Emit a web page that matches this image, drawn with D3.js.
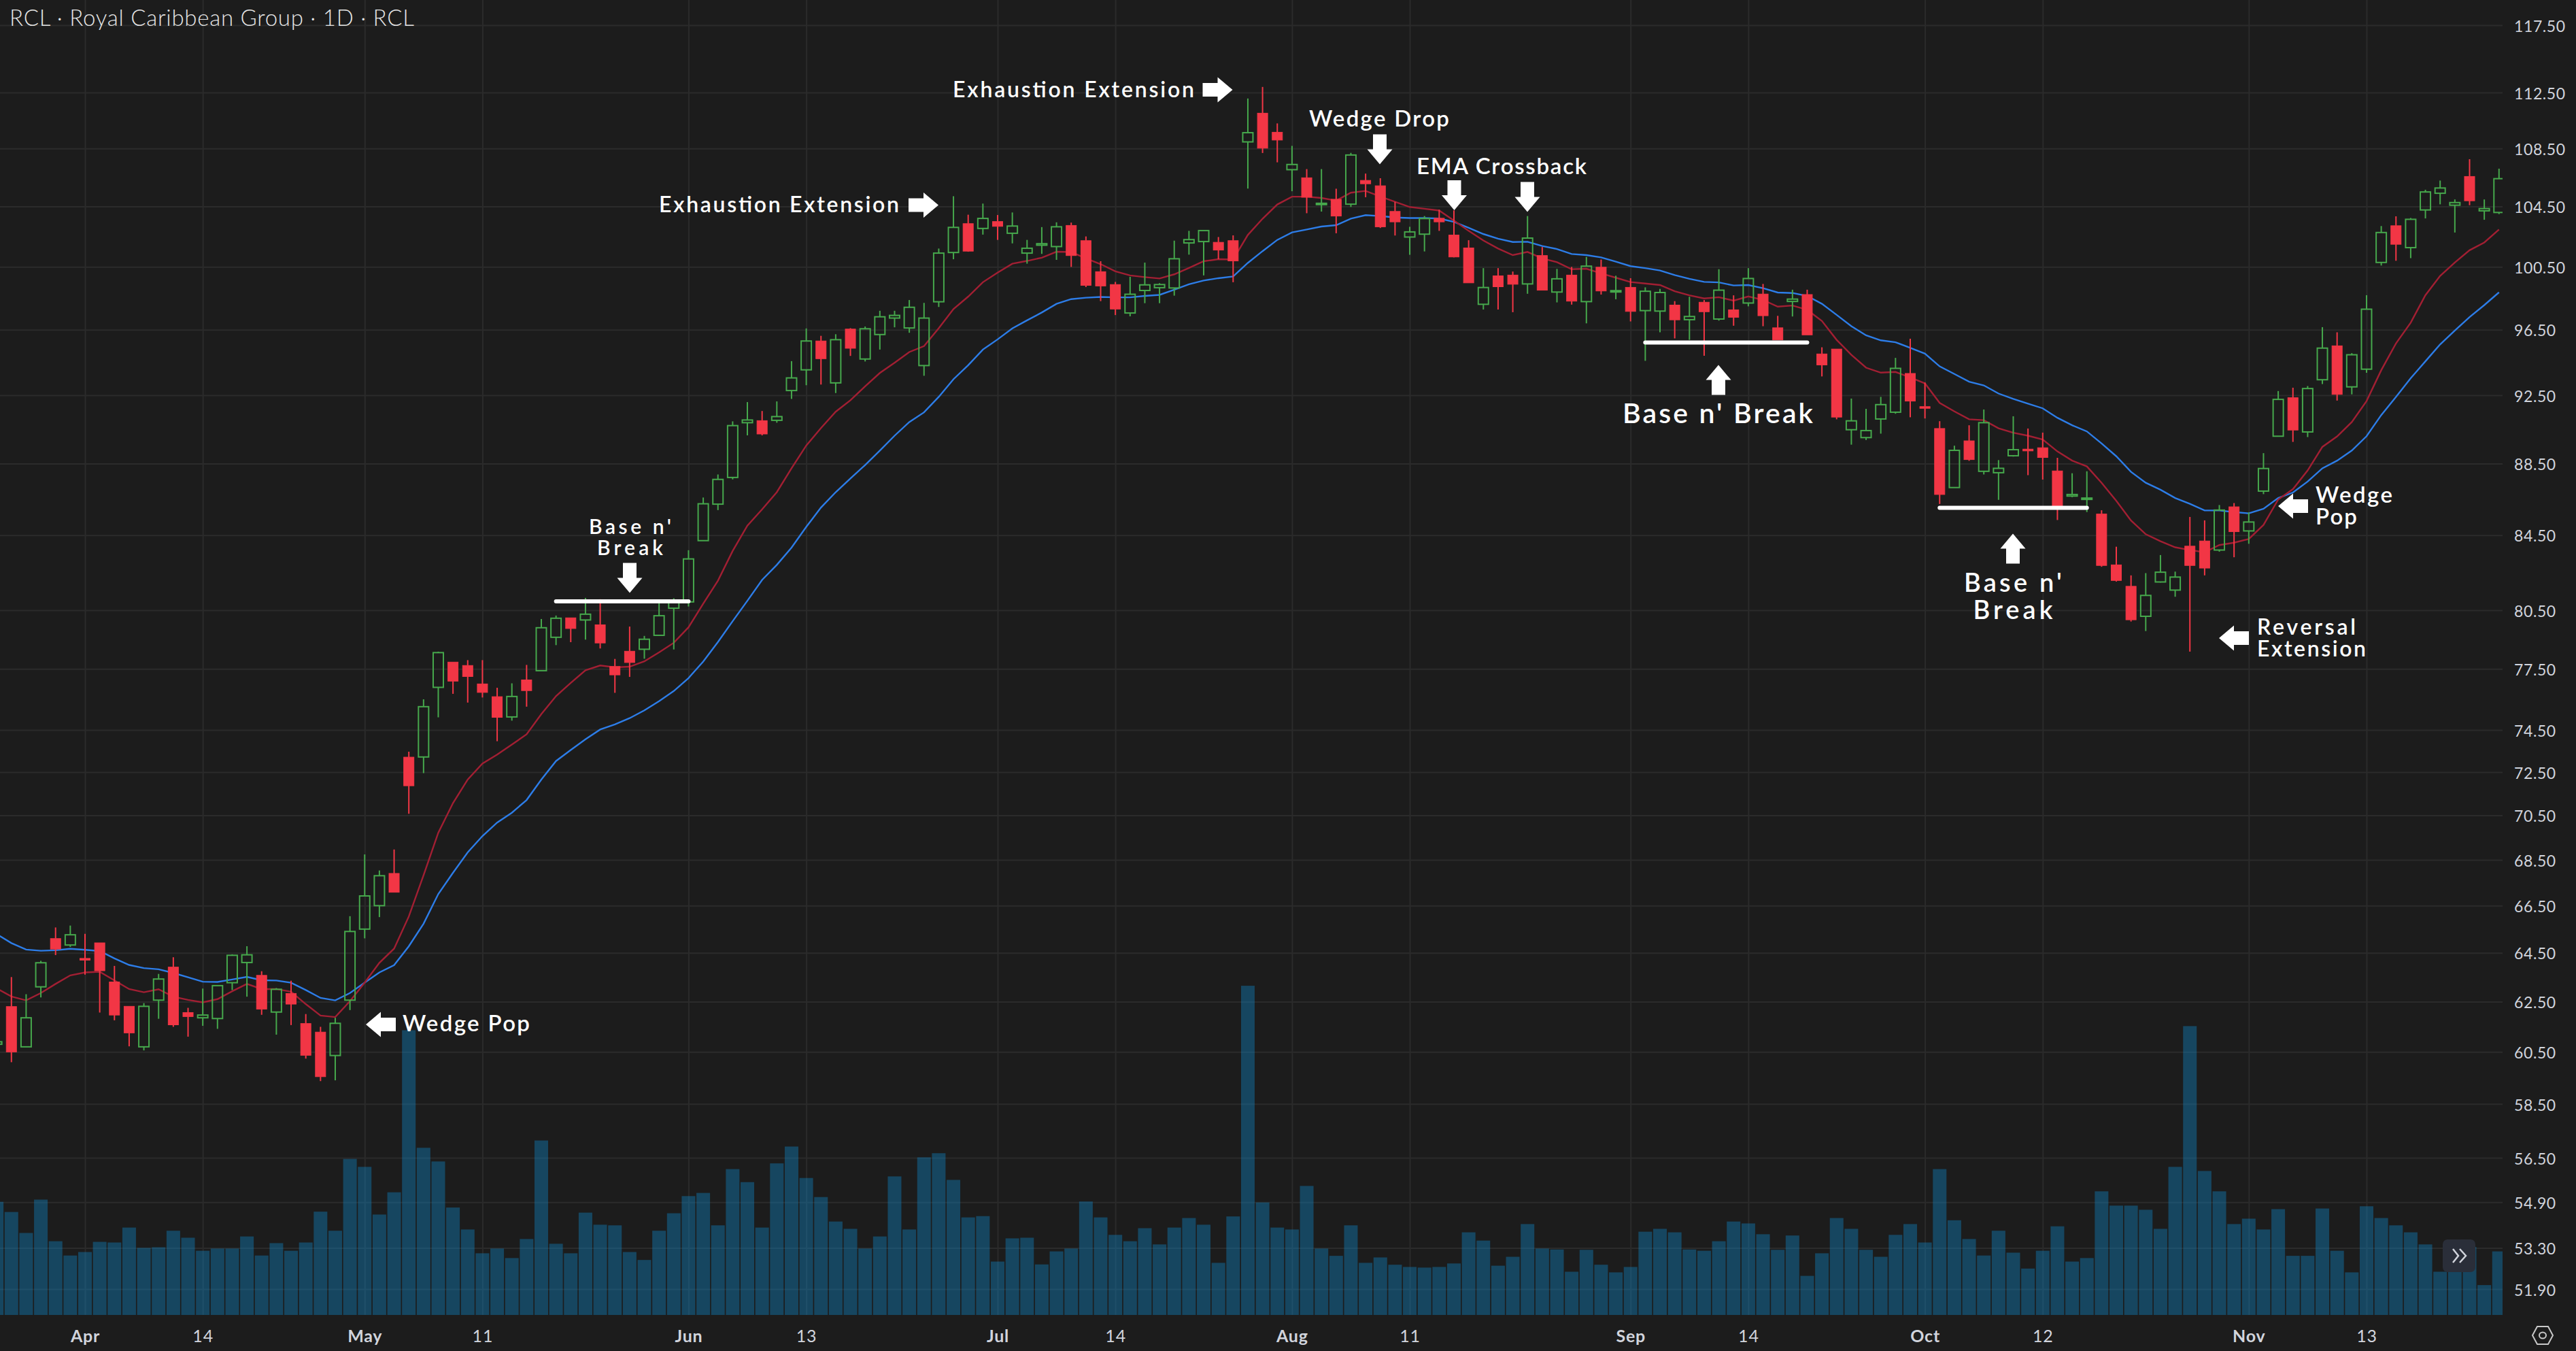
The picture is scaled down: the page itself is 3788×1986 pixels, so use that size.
<!DOCTYPE html>
<html>
<head>
<meta charset="utf-8">
<script src="https://cdn.jsdelivr.net/npm/d3@7/dist/d3.min.js"></script>
<style>
  html, body { margin: 0; padding: 0; background: #1c1c1c; }
  svg { display: block; }
  text { font-family: Lato, "Noto Sans", sans-serif; }
</style>
</head>
<body>
<svg id="chart" width="3788" height="1986"></svg>
<script>
// one row = 10 sessions, first row starts 6 sessions before Apr 3
const opens = [
  60.8,62.3,60.7,63.1,65.1,64.83,64.27,64.92,63.3,62.31,
  60.7,62.56,63.91,62.06,61.85,61.82,63.27,64.1,63.57,62.08,
  62.83,61.62,61.28,60.36,62.56,65.5,66.5,67.9,73.2,73.21,
  76.58,77.84,77.67,76.75,76.12,75.13,76.95,77.41,79.1,80.1,
  79.99,79.74,77.62,78.39,78.49,79.2,80.6,80.93,84.2,86.21,
  87.71,90.87,90.99,91.01,92.78,94.03,95.8,93.24,96.54,94.69,
  96.2,97.23,96.61,94.29,98.26,101.44,103.35,103.03,103.49,102.71,
  101.4,101.92,101.83,103.23,102.22,100.19,99.36,97.55,98.98,99.16,
  99.14,102.07,102.16,102.11,102.22,108.96,111.0,109.64,107.02,106.46,
  104.64,104.99,104.66,106.28,105.91,104.17,102.46,102.65,103.71,102.59,
  101.74,98.1,99.92,99.97,99.4,101.24,98.88,99.97,98.27,100.48,
  98.9,99.18,97.7,97.67,98.05,97.13,98.23,97.17,97.75,98.18,
  98.75,96.62,98.28,98.72,95.0,95.3,90.46,90.0,91.09,91.49,
  93.81,91.82,90.53,87.14,89.81,88.06,87.98,88.95,89.33,89.41,
  88.08,86.66,86.48,85.66,82.89,81.75,80.18,81.98,81.55,83.9,
  84.18,83.69,86.06,84.73,86.94,90.08,92.35,90.33,93.43,95.5,
  93.0,94.07,100.79,103.21,101.76,104.27,105.4,104.59,106.55,104.21,
  104.1
];
const highs = [
  61.0,63.5,62.8,64.17,65.57,65.65,65.3,64.92,63.96,62.31,
  62.44,63.63,64.32,62.25,63.03,63.15,64.44,64.78,63.74,63.05,
  63.35,62.0,61.49,61.85,66.05,68.74,68.03,68.96,73.46,75.99,
  78.37,77.84,77.94,77.94,76.56,76.78,77.7,80.04,80.22,80.1,
  81.14,81.07,78.0,79.65,79.17,80.93,81.12,83.68,86.58,87.88,
  90.95,92.09,91.56,92.13,94.56,96.58,96.12,96.22,96.6,96.7,
  97.69,97.69,98.37,98.19,101.7,105.2,103.95,104.7,103.93,104.1,
  102.27,103.12,103.44,103.42,102.5,100.87,99.53,99.86,100.78,99.45,
  102.22,102.87,102.91,102.46,102.57,112.06,112.9,110.27,108.68,107.06,
  107.06,105.71,108.19,106.75,106.43,104.82,103.14,103.86,104.29,104.24,
  102.25,100.42,100.42,100.2,103.86,101.8,100.37,100.5,101.15,100.98,
  99.93,99.77,99.18,99.08,98.3,98.58,98.37,100.35,98.67,100.42,
  99.4,97.37,99.03,99.03,95.41,95.3,92.3,91.69,92.4,94.76,
  95.94,93.26,90.96,89.53,90.72,91.65,88.7,91.25,90.53,90.29,
  88.83,87.95,88.06,85.87,83.87,82.33,82.45,83.42,82.53,85.5,
  85.31,86.16,86.27,85.75,89.1,92.75,92.95,93.05,96.66,96.34,
  95.05,98.68,103.19,103.84,103.73,105.64,106.27,104.98,107.75,104.98,
  107.09
];
const lows = [
  60.6,60.1,60.7,62.67,64.41,64.75,63.6,62.06,61.75,60.72,
  60.56,61.81,61.49,61.1,61.53,61.41,62.97,62.7,61.97,61.18,
  61.56,60.24,59.37,59.4,62.16,65.11,66.01,67.08,70.57,72.45,
  75.11,76.26,75.83,76.08,73.96,74.95,75.63,77.41,78.7,78.85,
  78.98,78.53,76.31,77.1,78.01,79.2,78.48,80.69,84.2,85.88,
  87.6,90.13,90.13,90.87,92.28,93.1,93.14,92.63,94.88,94.54,
  95.27,96.65,96.31,93.67,97.93,101.0,101.49,102.62,102.27,102.04,
  100.71,101.35,100.96,100.5,99.2,98.3,97.42,97.34,98.17,98.17,
  98.65,101.3,99.95,101.0,99.51,105.72,108.18,107.53,105.54,104.05,
  104.16,102.71,104.47,105.13,103.06,102.56,101.29,101.51,102.87,101.12,
  99.47,97.77,97.77,97.6,98.77,99.0,98.22,98.08,96.9,98.72,
  98.42,97.02,94.58,96.34,95.96,95.87,94.89,97.07,96.75,97.97,
  96.72,95.87,97.33,96.18,93.63,91.07,89.59,89.86,90.23,91.4,
  91.19,91.12,86.22,87.14,88.66,87.88,86.45,88.9,87.84,87.59,
  85.33,86.6,85.77,82.79,82.0,79.91,79.42,81.95,81.2,78.37,
  82.33,83.6,83.3,84.03,86.77,90.08,89.75,90.03,93.17,92.18,
  92.55,93.85,100.59,100.9,101.07,103.7,104.65,102.76,104.59,103.61,
  103.99
];
const closes = [
  60.9,60.5,61.85,64.09,64.66,65.26,64.2,63.76,61.96,61.25,
  62.31,63.42,61.57,61.9,61.96,63.15,64.4,64.42,62.2,63.0,
  62.4,60.37,59.54,61.63,65.4,66.92,67.8,67.08,71.86,75.63,
  78.32,76.89,77.12,76.33,75.11,76.13,76.42,79.59,80.08,79.55,
  80.29,78.81,77.2,77.82,79.0,80.21,80.93,83.21,86.23,87.6,
  90.7,91.03,90.21,91.23,93.54,95.8,94.71,95.88,95.35,96.56,
  97.31,97.4,97.91,97.23,101.4,103.1,101.53,103.7,103.17,103.19,
  101.72,102.02,103.14,101.24,99.31,99.27,97.8,98.74,99.34,99.36,
  101.03,102.29,102.89,101.6,100.89,109.61,108.52,109.09,107.38,105.13,
  104.72,103.86,108.04,106.05,103.14,103.47,102.8,103.69,103.47,101.15,
  99.47,99.17,99.22,99.38,102.39,99.0,99.73,98.3,100.55,98.95,
  98.97,97.65,98.93,98.85,97.12,97.33,97.63,99.0,97.28,99.75,
  97.38,95.87,98.43,96.18,94.33,91.2,90.98,90.41,91.94,94.12,
  92.15,91.72,86.75,89.26,88.73,90.87,88.23,89.3,89.23,88.85,
  86.08,86.75,86.55,82.86,82.06,80.0,81.27,82.5,82.24,82.86,
  82.72,85.88,84.69,85.22,88.22,92.25,90.44,92.9,95.36,92.55,
  94.95,97.79,102.76,101.98,103.64,105.49,105.76,104.77,104.89,104.36,
  106.4
];
// volume in millions of shares
const volumes = [
  3.56,3.24,2.58,3.63,2.32,1.87,1.98,2.30,2.28,2.75,
  2.11,2.13,2.65,2.43,2.02,2.09,2.09,2.47,1.87,2.26,
  2.02,2.28,3.25,2.65,4.91,4.66,3.16,3.86,8.96,5.26,
  4.83,3.38,2.69,1.94,2.09,1.79,2.39,5.49,2.24,1.94,
  3.22,2.84,2.82,1.98,1.73,2.65,3.20,3.74,3.84,2.82,
  4.59,4.18,2.75,4.77,5.30,4.31,3.71,2.94,2.71,2.09,
  2.47,4.36,2.69,4.96,5.09,4.25,3.07,3.11,1.68,2.41,
  2.43,1.59,2.00,2.09,3.57,3.07,2.52,2.32,2.73,2.22,
  2.75,3.05,2.84,1.64,3.10,10.36,3.54,2.75,2.69,4.06,
  2.09,1.86,2.82,1.64,1.81,1.58,1.51,1.49,1.51,1.62,
  2.60,2.34,1.55,1.83,2.86,2.09,2.06,1.36,2.05,1.58,
  1.34,1.51,2.62,2.71,2.60,2.06,2.02,2.32,2.94,2.88,
  2.54,2.05,2.50,1.23,1.94,3.05,2.71,2.05,1.83,2.52,
  2.86,2.28,4.59,2.98,2.39,1.87,2.65,1.96,1.46,2.02,
  2.79,1.68,1.79,3.89,3.44,3.44,3.31,2.71,4.66,9.09,
  4.53,3.89,2.86,3.03,2.69,3.33,1.86,1.86,3.35,2.02,
  1.34,3.42,3.05,2.82,2.60,2.22,1.36,1.36,2.14,0.94,
  2.00
];
const emaFast = [
  63.04,62.71,62.55,62.85,63.22,63.57,63.69,63.72,63.36,63.01,
  62.88,63.0,62.7,62.57,62.47,62.6,62.92,63.22,63.01,63.01,
  62.9,62.4,61.94,61.88,62.52,63.27,64.09,64.68,66.04,67.82,
  69.71,71.06,72.15,72.9,73.32,73.8,74.29,75.27,76.15,76.8,
  77.43,77.67,77.58,77.61,77.88,78.33,78.82,79.61,80.84,82.05,
  83.64,85.02,85.92,86.88,88.23,89.54,90.56,91.52,92.2,93.03,
  93.84,94.46,95.12,95.48,96.59,97.8,98.59,99.51,100.13,100.71,
  100.89,101.1,101.49,101.47,101.05,100.68,100.21,99.95,99.84,99.75,
  100.02,100.43,100.87,101.0,100.98,102.6,103.68,104.64,105.17,105.17,
  105.08,104.9,105.44,105.56,105.18,104.82,104.47,104.35,104.23,103.56,
  102.87,102.23,101.7,101.27,101.48,101.05,100.81,100.35,100.38,100.08,
  99.8,99.52,99.43,99.33,98.93,98.67,98.47,98.55,98.33,98.6,
  98.38,97.95,98.02,97.75,97.05,95.87,94.95,94.16,93.86,93.9,
  93.57,93.21,92.04,91.54,91.07,91.02,90.54,90.28,90.11,89.89,
  89.2,88.67,88.34,87.41,86.39,85.3,84.55,84.17,83.84,83.69,
  83.57,83.96,84.09,84.29,85.06,86.47,87.05,88.11,89.46,90.07,
  90.91,92.15,94.01,95.65,96.94,98.68,99.92,100.79,101.59,102.1,
  102.96
];
const emaSlow = [
  65.29,64.91,64.64,64.59,64.61,64.67,64.63,64.58,64.27,64.0,
  63.87,63.82,63.67,63.49,63.31,63.3,63.4,63.51,63.37,63.36,
  63.27,62.97,62.65,62.55,62.85,63.27,63.69,63.99,64.78,65.73,
  67.0,67.93,68.83,69.56,70.17,70.62,71.2,72.15,73.02,73.54,
  74.05,74.52,74.77,75.07,75.45,75.9,76.4,77.04,77.87,78.86,
  79.93,80.99,82.09,82.89,83.82,84.95,86.02,86.88,87.65,88.42,
  89.25,90.11,90.91,91.48,92.4,93.46,94.31,95.27,95.9,96.58,
  97.09,97.58,98.13,98.43,98.52,98.57,98.54,98.54,98.63,98.7,
  99.03,99.38,99.62,99.77,99.88,100.76,101.53,102.27,102.77,102.96,
  103.16,103.25,103.69,103.92,103.86,103.76,103.73,103.73,103.69,103.47,
  103.07,102.66,102.35,102.13,102.15,101.87,101.67,101.34,101.27,101.12,
  100.84,100.55,100.42,100.27,99.97,99.73,99.53,99.5,99.3,99.33,
  99.13,98.85,98.82,98.63,98.13,97.43,96.72,96.15,95.84,95.72,
  95.38,95.02,94.24,93.78,93.31,93.09,92.6,92.28,92.0,91.72,
  91.16,90.72,90.36,89.66,88.92,88.03,87.41,87.02,86.55,86.23,
  85.86,85.86,85.77,85.7,85.95,86.55,86.86,87.48,88.23,88.67,
  89.25,90.08,91.32,92.4,93.52,94.55,95.59,96.45,97.29,98.05,
  98.86
];
const priceTicks = [117.5,112.5,108.5,104.5,100.5,96.5,92.5,88.5,84.5,80.5,77.5,74.5,72.5,70.5,68.5,66.5,64.5,62.5,60.5,58.5,56.5,54.9,53.3,51.9];
const dateTickIndex = [6,14,25,33,47,55,68,76,88,96,111,119,131,139,153,161];
const dateTickLabels = ["Apr","14","May","11","Jun","13","Jul","14","Aug","11","Sep","14","Oct","12","Nov","13"];
const monthLabels = ["Apr","May","Jun","Jul","Aug","Sep","Oct","Nov"];
// base levels: first session, last session, price
const baseStart = [38,112,132];
const baseEnd = [47,123,142];
const baseLevel = [80.96,95.71,86.01];

const width = 3788, height = 1986;
const paneRight = 3680, paneBottom = 1933;
const bg = "#1c1c1c", gridCol = "#2b2b2b", red = "#f23645", green = "#46a84c";

const svg = d3.select("#chart");
svg.append("rect").attr("width", width).attr("height", height).attr("fill", bg);

const x = d3.scaleLinear().domain([0, 170]).range([-4.87, 3674.78]);
const y = d3.scaleLog().domain([117.5, 51.9]).range([37, 1895]);
const yVol = d3.scaleLinear().domain([0, 10]).range([paneBottom, paneBottom - 467.1]);

svg.append("clipPath").attr("id", "pane").append("rect").attr("width", paneRight).attr("height", paneBottom);

// axes, their ticks double as the grid
const yAxis = svg.append("g").attr("transform", `translate(${paneRight},0)`)
  .call(d3.axisRight(y).tickValues(priceTicks).tickSize(-paneRight).tickPadding(17).tickFormat(d => d.toFixed(2)));
const xAxis = svg.append("g").attr("transform", `translate(0,${paneBottom})`)
  .call(d3.axisBottom(x).tickValues(dateTickIndex).tickSize(-paneBottom).tickPadding(22).tickFormat((d, i) => dateTickLabels[i]));
[yAxis, xAxis].forEach(a => {
  a.select(".domain").remove();
  a.selectAll("line").attr("stroke", gridCol).attr("stroke-width", 2);
  a.attr("font-family", null).attr("font-size", null);
});
yAxis.selectAll("text").attr("fill", "#d1d4dc").attr("font-size", 23).attr("dy", "0.4em").style("letter-spacing", "0.6px");
xAxis.selectAll("text").attr("fill", "#d1d4dc").attr("font-size", 25).style("letter-spacing", "0.8px")
  .attr("font-weight", (d, i) => monthLabels.includes(dateTickLabels[i]) ? 700 : 400);

const pane = svg.append("g").attr("clip-path", "url(#pane)");

// volume
pane.selectAll(".vol").data(volumes).join("rect").attr("class", "vol")
  .attr("x", (d, i) => x(i) - 10).attr("width", 20)
  .attr("y", d => yVol(d)).attr("height", d => yVol(0) - yVol(d))
  .attr("fill", "#1086c8").attr("opacity", 0.4);

// moving averages
const lineFn = d3.line().x((d, i) => x(i)).y(d => y(d));
pane.append("path").attr("d", lineFn(emaSlow)).attr("fill", "none").attr("stroke", "#2d7de8").attr("stroke-width", 2.4);
pane.append("path").attr("d", lineFn(emaFast)).attr("fill", "none").attr("stroke", "#a21f33").attr("stroke-width", 2.4);

// candles
const bars = d3.range(closes.length).map(i => ({ i, o: opens[i], h: highs[i], l: lows[i], c: closes[i], up: closes[i] >= opens[i] }));
const candle = pane.selectAll(".candle").data(bars).join("g").attr("class", "candle");
candle.append("line").attr("x1", d => x(d.i)).attr("x2", d => x(d.i))
  .attr("y1", d => y(d.h)).attr("y2", d => y(Math.max(d.o, d.c)))
  .attr("stroke", d => d.up ? green : red).attr("stroke-width", 2);
candle.append("line").attr("x1", d => x(d.i)).attr("x2", d => x(d.i))
  .attr("y1", d => y(Math.min(d.o, d.c))).attr("y2", d => y(d.l))
  .attr("stroke", d => d.up ? green : red).attr("stroke-width", 2);
candle.append("rect").attr("x", d => x(d.i) - 7.5).attr("width", 15)
  .attr("y", d => y(Math.max(d.o, d.c)))
  .attr("height", d => Math.max(2, y(Math.min(d.o, d.c)) - y(Math.max(d.o, d.c))))
  .attr("fill", d => d.up ? "none" : red)
  .attr("stroke", d => d.up ? green : red).attr("stroke-width", d => d.up ? 2 : 1);

// white base lines
svg.selectAll(".base").data(baseLevel).join("line").attr("class", "base")
  .attr("x1", (d, i) => x(baseStart[i])).attr("x2", (d, i) => x(baseEnd[i]))
  .attr("y1", d => y(d)).attr("y2", d => y(d))
  .attr("stroke", "#fff").attr("stroke-width", 6).attr("stroke-linecap", "round");

// arrows, [tip x, tip y, rotation] with 0 = pointing left
const arrows = [
  [538,1506,0],[926,871.5,270],[1380,301.5,180],[1812.5,132,180],[2029,241.5,270],[2138.5,309,270],
  [2246,311.5,270],[2527,536.6,90],[2960,784.5,90],[3350,744,0],[3263,938,0]
];
svg.selectAll(".arrow").data(arrows).join("path").attr("class", "arrow")
  .attr("d", "M0,0L22,-18.5L22,-10L44,-10L44,10L22,10L22,18.5Z")
  .attr("transform", d => `translate(${d[0]},${d[1]}) rotate(${d[2]})`)
  .attr("fill", "#fff");

// callouts: text, x, baseline, size, width
const callouts = [
  ["Wedge Pop",592,1516,33,187],
  ["Base n'",866,785,30,121],
  ["Break",878,816,30,97],
  ["Exhaustion Extension",969,312,32,353],
  ["Exhaustion Extension",1401,143,32,355],
  ["Wedge Drop",1925,186,33,206],
  ["EMA Crossback",2083,256,33,250],
  ["Base n' Break",2386,621.5,41,280],
  ["Base n'",2888,870,38,144],
  ["Break",2901.5,910,38,117],
  ["Wedge",3405,738.5,33,113],
  ["Pop",3405,771,33,61],
  ["Reversal",3319,932.5,32,145],
  ["Extension",3319,964.5,32,160]
];
svg.selectAll(".callout").data(callouts).join("text").attr("class", "callout")
  .attr("x", d => d[1]).attr("y", d => d[2]).attr("font-size", d => d[3])
  .attr("textLength", d => d[4]).attr("lengthAdjust", "spacing")
  .attr("font-weight", 600).attr("fill", "#fff").text(d => d[0]);

// title
svg.append("text").attr("x", 14).attr("y", 38).attr("font-size", 33).attr("font-weight", 300)
  .attr("fill", "#e6e6e6").attr("textLength", 595).attr("lengthAdjust", "spacing")
  .text("RCL · Royal Caribbean Group · 1D · RCL");

// scroll button
svg.append("rect").attr("x", 3592).attr("y", 1822).attr("width", 48).attr("height", 48).attr("rx", 7).attr("fill", "#2a2e39");
svg.append("path").attr("d", "M3607,1836L3615,1846L3607,1856M3617,1836L3626,1846L3617,1856")
  .attr("fill", "none").attr("stroke", "#d1d4dc").attr("stroke-width", 2.5);

// settings icon
svg.append("path").attr("d", "M3724,1963L3731,1950L3747,1950L3754,1963L3747,1976L3731,1976Z")
  .attr("fill", "none").attr("stroke", "#c8c8c8").attr("stroke-width", 2);
svg.append("ellipse").attr("cx", 3739).attr("cy", 1963).attr("rx", 5).attr("ry", 4.5)
  .attr("fill", "none").attr("stroke", "#c8c8c8").attr("stroke-width", 2);
</script>
</body>
</html>
